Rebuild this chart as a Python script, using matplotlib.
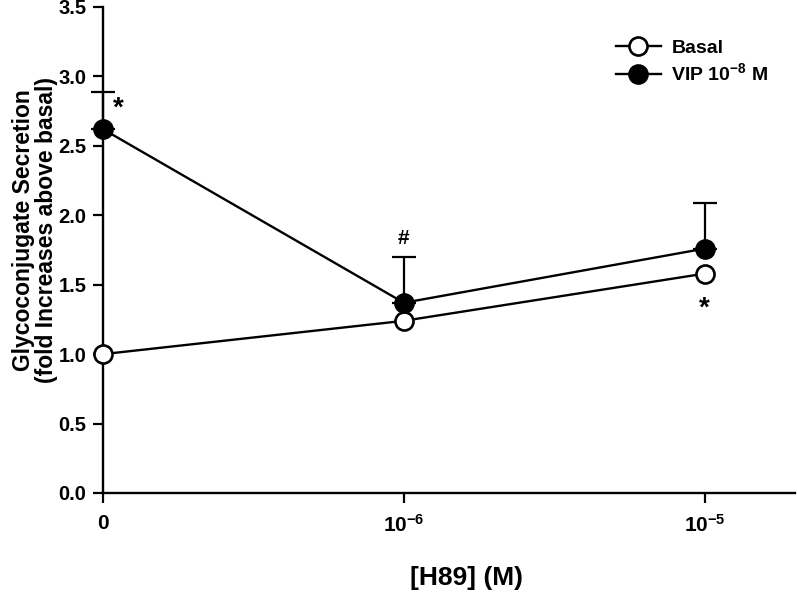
import matplotlib
matplotlib.use("Agg")
import matplotlib.pyplot as plt

plt.rcParams['font.family'] = ['Liberation Sans', 'DejaVu Sans']
plt.rcParams['font.weight'] = 'bold'
plt.rcParams['mathtext.fontset'] = 'custom'
plt.rcParams['mathtext.rm'] = 'Liberation Sans:bold'
plt.rcParams['mathtext.bf'] = 'Liberation Sans:bold'
plt.rcParams['mathtext.it'] = 'Liberation Sans:bold'

x_pos = [0, 1, 2]
x_labels = ['0', r'$\mathbf{10^{-6}}$', r'$\mathbf{10^{-5}}$']
basal = [1.0, 1.24, 1.58]
vip = [2.62, 1.37, 1.76]
vip_err = [0.27, 0.33, 0.33]
y_ticks = [0.0, 0.5, 1.0, 1.5, 2.0, 2.5, 3.0, 3.5]

fig = plt.figure(figsize=(7.97, 5.96), dpi=100)
ax = fig.add_axes([103/797, 1-493/596, (795-103)/797, (493-7)/596])

eb = ax.errorbar(x_pos, vip, yerr=[[0]*3, vip_err], fmt='none', ecolor='black',
                 elinewidth=1.6, capsize=8.5, capthick=1.6, zorder=2)
for art in list(eb.lines[1]) + list(eb.lines[2]):
    art.set_clip_on(False)
ax.plot(x_pos, basal, '-o', color='black', lw=1.7, ms=13, mfc='white',
        mec='black', mew=1.9, label='Basal', zorder=3, clip_on=False)
ax.plot(x_pos, vip, '-o', color='black', lw=1.7, ms=13, mfc='black',
        mec='black', mew=1.9, label=r'VIP 10$^{\mathbf{-8}}$ M', zorder=4, clip_on=False)

ax.text(0.05, vip[0] + 0.15, '*', fontsize=20, fontweight='bold', ha='center', va='center')
ax.text(1, vip[1] + vip_err[1] + 0.13, '#', fontsize=15, fontweight='bold', ha='center', va='center')
ax.text(2, basal[2] - 0.25, '*', fontsize=20, fontweight='bold', ha='center', va='center')

ax.set_xlim(0, 2.3)
ax.set_ylim(0, 3.5)
ax.set_xticks(x_pos)
ax.set_xticklabels(x_labels, fontsize=15, fontweight='bold')
ax.set_yticks(y_ticks)
ax.set_yticklabels([f'{v:.1f}' for v in y_ticks], fontsize=14.5, fontweight='bold')
ax.tick_params(direction='out', length=7, width=1.6, pad=5)
ax.tick_params(axis='x', pad=8)
for s in ['top', 'right']:
    ax.spines[s].set_visible(False)
for s in ['left', 'bottom']:
    ax.spines[s].set_linewidth(1.7)

fig.text(35/797, 1-230/596, 'Glycoconjugate Secretion\n(fold Increases above basal)',
         fontsize=16.5, fontweight='bold', linespacing=1.05, rotation=90,
         ha='center', va='center', multialignment='center')
fig.text(466/797, 1-578/596, '[H89] (M)', fontsize=19, fontweight='bold', ha='center', va='center')

leg = ax.legend(loc='upper left', bbox_to_anchor=((616-103)/692, 1-(39-7)/486), frameon=False,
                fontsize=14, handlelength=2.3, handletextpad=0.55, labelspacing=0.3,
                borderaxespad=0, borderpad=0)

fig.savefig('out.png', dpi=100)
